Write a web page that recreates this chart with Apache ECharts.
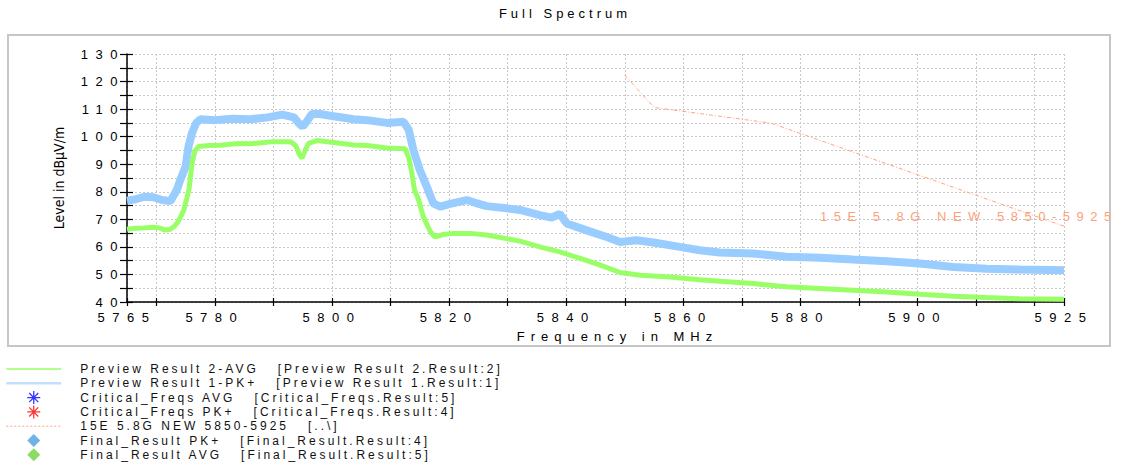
<!DOCTYPE html>
<html lang="en">
<head>
<meta charset="UTF-8">
<title>Full Spectrum</title>
<style>
    *{
        margin: 0;
        padding: 0;
    }
    body{
        background: #fff;
    }
    .main{
        width: 1130px;
        height: 467px;
    }
    /* the original plot uses widely spaced lettering */
    .main text[style*="lsTick"]{ letter-spacing: 7.5px; }
    .main text[style*="lsTitle"]{ letter-spacing: 4px; }
    .main text[style*="lsName"]{ letter-spacing: 6px; }
    .main text[style*="lsLegend"]{ letter-spacing: 3px; }
    .main text[style*="lsLimit"]{ letter-spacing: 6.5px; }
</style>
<script src="https://cdn.jsdelivr.net/npm/echarts@6/dist/echarts.min.js"></script>
</head>
<body>
<div class="main"></div>
<script>
    // [frequency MHz, level dBµV/m]
    let avgData = [
        [5765,66.4],[5766.5,66.8],[5768,66.9],[5769.5,67.1],[5770.5,66.9],[5771.5,66.1],[5772.3,66.3],
        [5773,67.3],[5773.6,68.8],[5774.2,71],[5774.7,73.4],[5775.2,77.5],[5775.6,81],[5776.1,90.3],
        [5776.6,94.8],[5777.2,96.4],[5779,96.8],[5781,96.9],[5783.8,97.5],[5786,97.4],[5788,97.8],
        [5790,98.2],[5792.9,98.2],[5793.8,96.8],[5794.4,93.6],[5794.9,92.2],[5795.5,95.5],[5796,97.6],
        [5797.4,98.6],[5800,98],[5803.7,97],[5806,96.8],[5809.4,95.9],[5812.5,95.6],[5813.1,92.4],
        [5813.6,87.3],[5814.1,80.6],[5814.8,77],[5815.6,70.9],[5816.8,65.5],[5817.6,63.6],[5819,64.5],
        [5820.7,64.9],[5823.6,64.9],[5826.4,64.3],[5829.8,63],[5832.1,62.1],[5835.5,60],[5838.9,58.2],
        [5842.4,55.8],[5845.8,53.4],[5849.2,50.7],[5852.6,49.7],[5857.7,49.1],[5862.8,48.1],[5866.2,47.5],
        [5871.9,46.7],[5877.6,45.5],[5883.3,44.9],[5889,44.3],[5894.7,43.6],[5900.4,42.8],[5906.1,42.1],
        [5911.8,41.6],[5917.4,41.2],[5925,41]
    ];
    let pkData = [
        [5765,76.8],[5766.5,77.3],[5768,78.2],[5769.5,78],[5771,77],[5772.4,76.6],[5773.5,80.6],
        [5774.1,84.3],[5775,89.1],[5775.5,96.4],[5776.1,101.3],[5776.8,104.9],[5777.5,106.3],[5780,106],
        [5783,106.5],[5786,106.3],[5789,107],[5791.5,108],[5793.5,107],[5794.5,104.5],[5795,103.7],
        [5795.7,105.5],[5796.6,108.3],[5798,108.2],[5800,107.5],[5803.7,106.3],[5806,106],[5809.4,105],
        [5812.2,105.4],[5813.1,102.5],[5813.9,95.2],[5815,87.9],[5816.2,81.8],[5817.3,75.8],[5818.5,74.6],
        [5820,75.5],[5823,77],[5824.5,76],[5826.4,74.8],[5829.8,74],[5832.1,73.4],[5835.5,71.5],
        [5837.5,70.6],[5838.9,72],[5840.1,68.5],[5843.5,66],[5846.9,63.6],[5849.2,61.8],[5852,62.4],
        [5854.9,61.6],[5859.4,60],[5862.8,58.8],[5866.2,58],[5871.9,57.6],[5877.6,56.4],[5883.3,56.1],
        [5889,55.4],[5894.7,54.8],[5900.4,54],[5906.1,52.7],[5911.8,52.1],[5917.4,51.8],[5925,51.5]
    ];
    let limitData = [[5850,122.3],[5855,110.6],[5875,104.9],[5925,67.5]];

    let legendNames = ['Preview Result 2-AVG', 'Preview Result 1-PK+', 'Critical_Freqs AVG',
        'Critical_Freqs PK+', '15E 5.8G NEW 5850-5925', 'Final_Result PK+', 'Final_Result AVG'];
    let legendSources = ['[Preview Result 2.Result:2]', '[Preview Result 1.Result:1]', '[Critical_Freqs.Result:5]',
        '[Critical_Freqs.Result:4]', '[..\\]', '[Final_Result.Result:4]', '[Final_Result.Result:5]'];

    let xLabels = [5765, 5780, 5800, 5820, 5840, 5860, 5880, 5900, 5925];
    let xTicks = [5765, 5770, 5780, 5790, 5800, 5810, 5820, 5830, 5840, 5850, 5860, 5870, 5880, 5890, 5900, 5910, 5920, 5925];
    let yLabels = [40, 50, 60, 70, 80, 90, 100, 110, 120, 130];

    let star = 'path://M4.5,0H5.5V10H4.5Z M0,4.5H10V5.5H0Z M1.15,1.85L1.85,1.15L8.85,8.15L8.15,8.85Z M8.15,1.15L8.85,1.85L1.85,8.85L1.15,8.15Z';
    let diamond = 'path://M5,0L10,5L5,10L0,5Z';
    let noDot = {color: 'rgba(0,0,0,0)', borderColor: 'rgba(0,0,0,0)', borderWidth: 0};
    let tickFont = 'Liberation Sans, Arial, lsTick';
    let plain = function (value) {
        return String(value);
    };

    let main = document.querySelector('.main');
    let chart = echarts.init(main, null, {renderer: 'svg'});

    let option = {
        animation: false,
        backgroundColor: '#fff',
        title: {
            text: 'Full Spectrum',
            left: 'center',
            top: 2,
            textStyle: {fontSize: 13, fontWeight: 'normal', color: '#000', fontFamily: 'Liberation Sans, Arial, lsTitle'}
        },
        graphic: [{
            type: 'rect',
            silent: true,
            z: -1,
            shape: {x: 8, y: 35, width: 1102, height: 311},
            style: {fill: 'none', stroke: '#c6c6c6', lineWidth: 2}
        }],
        legend: {
            orient: 'vertical',
            left: 5,
            top: 362,
            padding: 0,
            itemWidth: 55,
            itemHeight: 13,
            itemGap: 0.3,
            selectedMode: false,
            textStyle: {fontSize: 12, lineHeight: 14, color: '#111', fontFamily: 'Liberation Sans, Arial, lsLegend', padding: [0, 0, 0, 14]},
            formatter: function (name) {
                return name + '\u00a0\u00a0\u00a0' + legendSources[legendNames.indexOf(name)];
            },
            data: [
                {name: legendNames[0], lineStyle: {width: 1.5, color: '#99ff66'}, itemStyle: noDot},
                {name: legendNames[1], lineStyle: {width: 2.5, color: '#c4dffb'}, itemStyle: noDot},
                {name: legendNames[2], icon: star},
                {name: legendNames[3], icon: star},
                {name: legendNames[4], lineStyle: {width: 1, type: [2, 2]}, itemStyle: noDot},
                {name: legendNames[5], icon: diamond},
                {name: legendNames[6], icon: diamond}
            ]
        },
        grid: {left: 127, right: 66, top: 54, bottom: 165, outerBoundsMode: 'none'},
        xAxis: [{
            type: 'value',
            min: 5765,
            max: 5925,
            name: 'Frequency in MHz',
            nameLocation: 'middle',
            nameGap: 28,
            nameMoveOverlap: false,
            nameTextStyle: {fontSize: 13, color: '#000', fontFamily: 'Liberation Sans, Arial, lsName', padding: [0, 0, 0, 44]},
            axisLine: {show: true, lineStyle: {color: '#000', width: 1.5}},
            axisTick: {show: true, length: 4, customValues: xTicks, lineStyle: {color: '#000', width: 1.2}},
            axisLabel: {customValues: xLabels, formatter: plain, margin: 9, fontSize: 13, color: '#000', fontFamily: tickFont},
            splitLine: {show: true, lineStyle: {color: '#c8c8c8', type: [2, 2], width: 1}}
        }, {
            type: 'value',
            min: 5765,
            max: 5925,
            position: 'bottom',
            axisLine: {show: false},
            axisLabel: {show: false},
            axisTick: {show: true, inside: true, length: 4, customValues: xTicks, lineStyle: {color: '#000', width: 1.2}},
            splitLine: {show: false}
        }],
        yAxis: [{
            type: 'value',
            min: 40,
            max: 130,
            interval: 5,
            name: 'Level in dBµV/m',
            nameLocation: 'middle',
            nameGap: 61,
            nameMoveOverlap: false,
            nameTextStyle: {fontSize: 14, color: '#000', fontFamily: 'Liberation Sans Narrow, DejaVu Sans Condensed, Arial Narrow, sans-serif'},
            axisLine: {show: true, lineStyle: {color: '#000', width: 1.5}},
            axisTick: {show: true, length: 7, lineStyle: {color: '#000', width: 1.2}},
            axisLabel: {customValues: yLabels, formatter: plain, margin: 2, fontSize: 13, color: '#000', fontFamily: tickFont},
            splitLine: {show: true, lineStyle: {color: '#c8c8c8', type: [2, 2], width: 1}}
        }, {
            type: 'value',
            min: 40,
            max: 130,
            interval: 5,
            position: 'left',
            axisLine: {show: false},
            axisLabel: {show: false},
            axisTick: {show: true, inside: true, length: 6, lineStyle: {color: '#000', width: 1.2}},
            splitLine: {show: false}
        }],
        series: [{
            name: legendNames[1],
            type: 'line',
            data: pkData,
            symbol: 'none',
            color: '#99ccff',
            lineStyle: {color: '#99ccff', width: 8}
        }, {
            name: legendNames[0],
            type: 'line',
            data: avgData,
            symbol: 'none',
            color: '#99ff66',
            lineStyle: {color: '#99ff66', width: 5}
        }, {
            name: legendNames[2],
            type: 'scatter',
            data: [],
            symbol: star,
            color: '#0000ff'
        }, {
            name: legendNames[3],
            type: 'scatter',
            data: [],
            symbol: star,
            color: '#ff0000'
        }, {
            name: legendNames[4],
            type: 'line',
            data: limitData,
            symbol: 'none',
            color: '#ffa47e',
            lineStyle: {color: '#ffa47e', width: 1, type: [4, 2, 1, 2]},
            endLabel: {
                show: true,
                formatter: '{a}',
                color: '#fba27c',
                fontSize: 13,
                fontFamily: 'Liberation Sans, Arial, lsLimit',
                offset: [-252, -10]
            }
        }, {
            name: legendNames[5],
            type: 'scatter',
            data: [],
            symbol: diamond,
            color: '#4b9ee2'
        }, {
            name: legendNames[6],
            type: 'scatter',
            data: [],
            symbol: diamond,
            color: '#6fd23c'
        }]
    };
    chart.setOption(option);
</script>
</body>
</html>
